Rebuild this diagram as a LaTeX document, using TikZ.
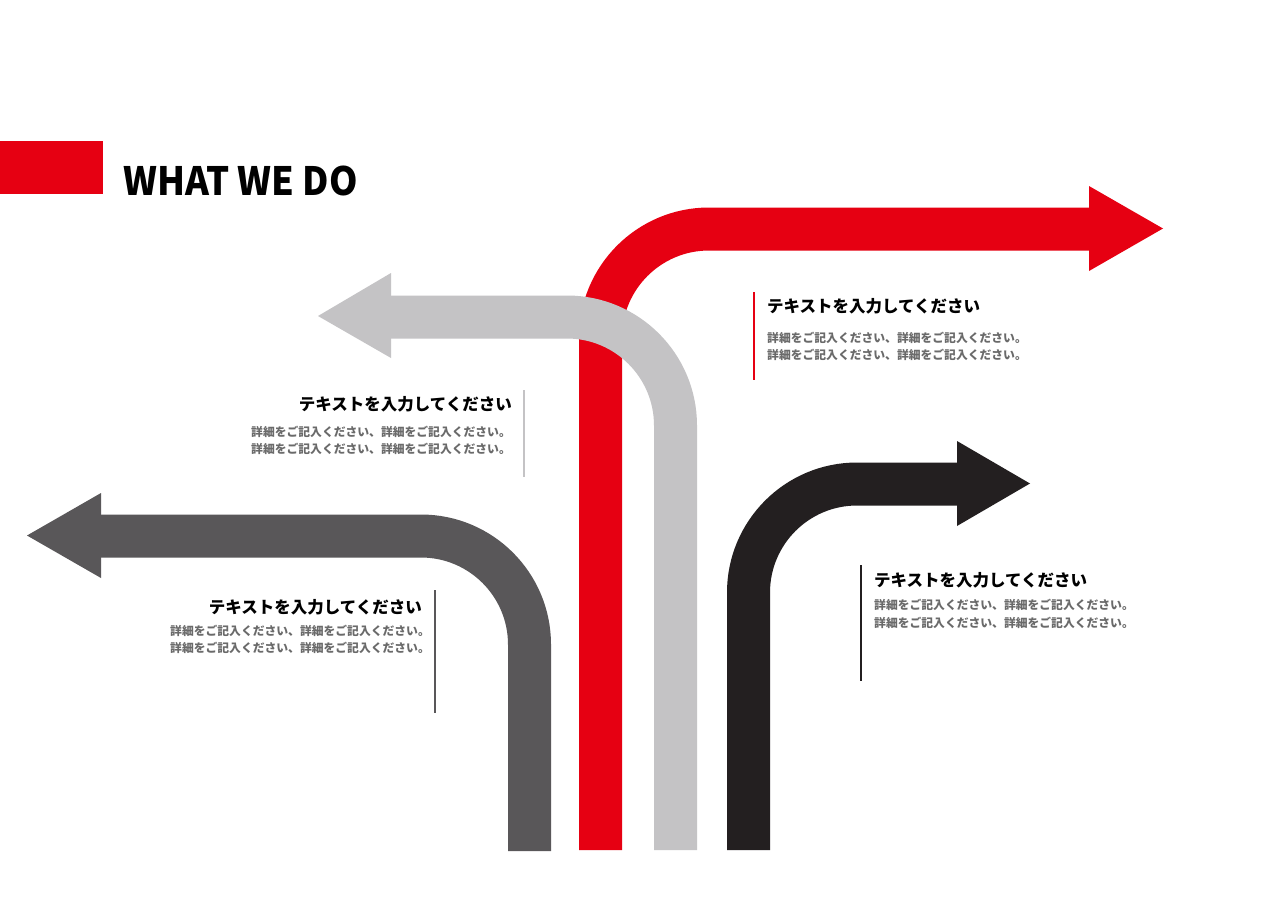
\documentclass[tikz,border=0pt]{standalone}
\usepackage{fontspec}
\setmainfont{Noto Sans CJK JP}
\definecolor{cRed}{HTML}{E60012}
\definecolor{cLight}{HTML}{C4C3C5}
\definecolor{cDark}{HTML}{595759}
\definecolor{cBlack}{HTML}{231F20}
\definecolor{cBody}{HTML}{6A6A6A}
\begin{document}
\begin{tikzpicture}[x=1pt,y=-1pt,
  band/.style={line width=43pt, line cap=butt, rounded corners=108.5pt},
  head/.style={inner sep=0pt, font=\fontsize{16.5}{20}\selectfont\bfseries, text=black},
  body/.style={inner sep=0pt, font=\fontsize{11.8}{14}\selectfont\bfseries, text=cBody},
  rule/.style={line width=1.8pt}]
\fill[white] (0,0) rectangle (1280,905);
\useasboundingbox (0,0) rectangle (1280,905);
% title
\fill[cRed] (0,141) rectangle (103,194);
\node[inner sep=0pt, anchor=base west, font=\fontsize{39}{44}\selectfont\bfseries] (title) at (123,195) {\scalebox{0.93}[1]{WHAT WE DO}};
% red arrow
\draw[band, cRed] (600.5,850) -- (600.5,229) -- (1090,229);
\fill[cRed] (1089,186) -- (1163,228.5) -- (1089,271) -- cycle;
% light grey arrow
\draw[band, cLight] (675.5,850) -- (675.5,317) -- (390,317);
\fill[cLight] (391,273) -- (318,316) -- (391,358) -- cycle;
% dark grey arrow
\draw[band, cDark] (529.5,851) -- (529.5,536) -- (100,536);
\fill[cDark] (101,493) -- (27,535.5) -- (101,578) -- cycle;
% black arrow
\draw[band, cBlack] (748.5,850) -- (748.5,484) -- (958,484);
\fill[cBlack] (957,441) -- (1030,483.5) -- (957,526) -- cycle;
% block 1 (red)
\coordinate (r1a) at (754,292); \coordinate (r1b) at (754,380);
\draw[rule, cRed] (r1a) -- (r1b);
\node[head, anchor=west] (h1) at (767,306) {テキストを入力してください};
\node[body, anchor=west] (b1a) at (767,338) {詳細をご記入ください、詳細をご記入ください。};
\node[body, anchor=west] (b1b) at (767,355) {詳細をご記入ください、詳細をご記入ください。};
% block 2 (light grey)
\coordinate (r2a) at (524,390); \coordinate (r2b) at (524,477);
\draw[rule, cLight] (r2a) -- (r2b);
\node[head, anchor=east] (h2) at (512,404) {テキストを入力してください};
\node[body, anchor=east] (b2a) at (511,432) {詳細をご記入ください、詳細をご記入ください。};
\node[body, anchor=east] (b2b) at (511,449) {詳細をご記入ください、詳細をご記入ください。};
% block 3 (dark grey)
\coordinate (r3a) at (435,590); \coordinate (r3b) at (435,713);
\draw[rule, cDark] (r3a) -- (r3b);
\node[head, anchor=east] (h3) at (422,607) {テキストを入力してください};
\node[body, anchor=east] (b3a) at (430,631) {詳細をご記入ください、詳細をご記入ください。};
\node[body, anchor=east] (b3b) at (430,648) {詳細をご記入ください、詳細をご記入ください。};
% block 4 (black)
\coordinate (r4a) at (861,565); \coordinate (r4b) at (861,681);
\draw[rule, cBlack] (r4a) -- (r4b);
\node[head, anchor=west] (h4) at (874,580) {テキストを入力してください};
\node[body, anchor=west] (b4a) at (874,605) {詳細をご記入ください、詳細をご記入ください。};
\node[body, anchor=west] (b4b) at (874,623) {詳細をご記入ください、詳細をご記入ください。};
\end{tikzpicture}
\end{document}
